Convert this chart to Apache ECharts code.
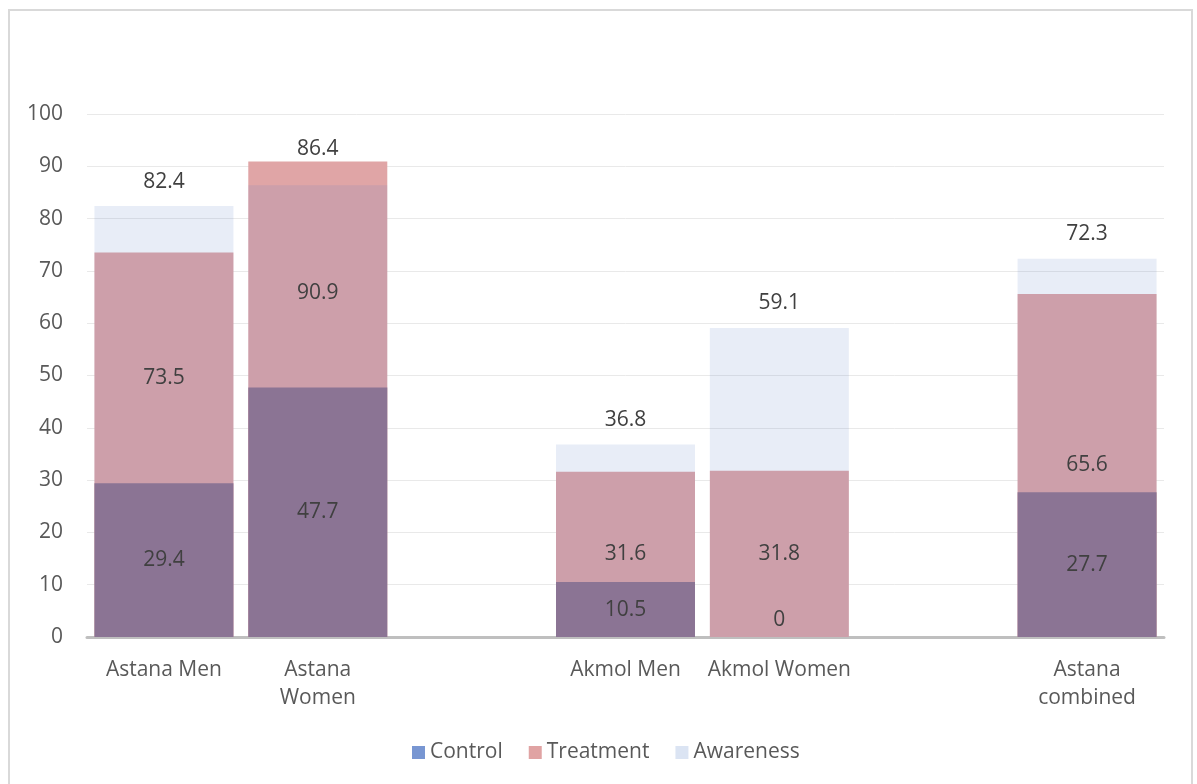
<!DOCTYPE html>
<html>
<head>
<meta charset="utf-8">
<script src="https://cdn.jsdelivr.net/npm/echarts@6/dist/echarts.min.js"></script>
<style>
  html, body { margin: 0; padding: 0; background: #ffffff; }
  #chart { width: 1197px; height: 784px; }
</style>
</head>
<body>
<div id="chart"></div>
<script>
// Categories (blank slots separate the regional groups)
const categories = ['Astana Men', 'Astana\nWomen', '', 'Akmol Men', 'Akmol Women', '', 'Astana\ncombined'];

// Percentages per group
const control   = [29.4, 47.7, null, 10.5, 0,    null, 27.7];
const treatment = [73.5, 90.9, null, 31.6, 31.8, null, 65.6];
const awareness = [82.4, 86.4, null, 36.8, 59.1, null, 72.3];

// Value axis range
const yMin = 0, yMax = 100, yStep = 10;

// Manual vertical nudges (px) for a few data labels
const labelShift = {
  Treatment: { 0: -67, 1: -106 },
  Control:   { 4: -17 },
  Awareness: { 1: -12 }
};

const FONT = '"Open Sans", "Noto Sans", sans-serif';

function withShifts(name, values) {
  const shifts = labelShift[name] || {};
  return values.map((v, i) => {
    if (v === null) return null;
    if (shifts[i] !== undefined) return { value: v, label: { offset: [0, shifts[i]] } };
    return v;
  });
}

const labelStyle = { color: '#404040', fontSize: 21, fontFamily: FONT };

const chart = echarts.init(document.getElementById('chart'), null, { renderer: 'canvas' });

chart.setOption({
  animation: false,
  backgroundColor: '#ffffff',
  graphic: [{
    type: 'rect',
    shape: { x: 9, y: 10, width: 1183, height: 800 },
    style: { fill: 'none', stroke: '#d9d9d9', lineWidth: 2 },
    silent: true
  }],
  grid: { left: 87, right: 33, top: 114, bottom: 147 },
  legend: {
    left: 407,
    top: 737,
    itemWidth: 13,
    itemHeight: 13,
    itemGap: 26,
    textStyle: { color: '#595959', fontSize: 21, fontFamily: FONT },
    data: [
      { name: 'Control',   icon: 'rect', itemStyle: { color: '#7896d2' } },
      { name: 'Treatment', icon: 'rect', itemStyle: { color: '#e0a3a3' } },
      { name: 'Awareness', icon: 'rect', itemStyle: { color: '#dbe4f3' } }
    ]
  },
  xAxis: {
    type: 'category',
    data: categories,
    axisLine: { lineStyle: { color: '#bfbfbf', width: 3 } },
    axisTick: { show: false },
    axisLabel: {
      interval: 0,
      color: '#595959',
      fontSize: 21,
      lineHeight: 28,
      fontFamily: FONT,
      margin: 19
    }
  },
  yAxis: {
    type: 'value',
    min: yMin,
    max: yMax,
    interval: yStep,
    axisLine: { show: false },
    axisTick: { show: false },
    axisLabel: { color: '#595959', fontSize: 21, fontFamily: FONT, margin: 24 },
    splitLine: { lineStyle: { color: '#e9e9e9', width: 1 } }
  },
  series: [
    {
      name: 'Treatment',
      type: 'bar',
      barWidth: 139,
      barGap: '-100%',
      itemStyle: { color: '#e0a5a6' },
      label: Object.assign({ show: true, position: 'inside' }, labelStyle),
      data: withShifts('Treatment', treatment)
    },
    {
      name: 'Control',
      type: 'bar',
      barWidth: 139,
      barGap: '-100%',
      itemStyle: { color: '#93738c' },
      label: Object.assign({ show: true, position: 'inside' }, labelStyle),
      data: withShifts('Control', control)
    },
    {
      name: 'Awareness',
      type: 'bar',
      barWidth: 139,
      barGap: '-100%',
      itemStyle: { color: 'rgba(90,130,200,0.14)' },
      label: Object.assign({ show: true, position: 'top', distance: 14 }, labelStyle),
      data: withShifts('Awareness', awareness)
    }
  ]
});
</script>
</body>
</html>
